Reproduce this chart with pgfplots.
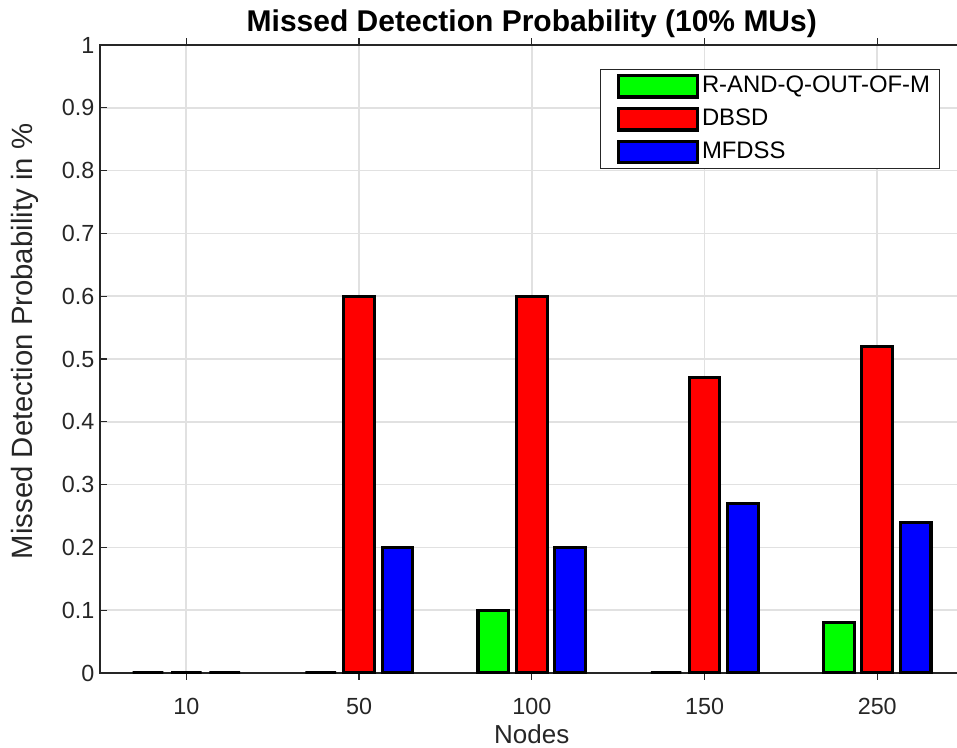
\documentclass[border=0pt]{standalone}
\usepackage{fontspec}
\setmainfont{Liberation Sans}
\usepackage{pgfplots}
\pgfplotsset{compat=1.18}

\definecolor{gridgray}{RGB}{225,225,225}
\definecolor{axgray}{RGB}{38,38,38}

\begin{document}
\begin{tikzpicture}
\begin{axis}[
  at={(0,0)}, anchor=south west,
  scale only axis,
  width=647.7pt, height=471pt,
  xmin=-0.5, xmax=4.5,
  ymin=0, ymax=1,
  xtick={0,1,2,3,4},
  xticklabels={10,50,100,150,250},
  ytick={0,0.1,...,1},
  yticklabels={0,0.1,0.2,0.3,0.4,0.5,0.6,0.7,0.8,0.9,1},
  xtick pos=both, ytick pos=both,
  tick align=inside,
  major tick length=5pt,
  every tick/.style={axgray, line width=1pt},
  axis line style={axgray, line width=1.3pt},
  grid=major,
  major grid style={gridgray, line width=1.3pt},
  every tick label/.append style={inner sep=0pt, font=\fontsize{17.5}{20}\selectfont, text=axgray},
  yticklabel style={xshift=-4pt},
  xticklabel style={yshift=-13.5pt},
  /pgf/number format/assume math mode=true,
  title={Missed Detection Probability (10\% MUs)},
  title style={at={(rel axis cs:0.5,1)}, anchor=base, yshift=4pt, inner sep=0pt,
    font=\bfseries\fontsize{22.5}{26}\selectfont},
  xlabel={Nodes},
  xlabel style={at={(axis description cs:0.5,-0.097)}, anchor=center, inner sep=0pt,
    font=\fontsize{19.5}{22}\selectfont, text=axgray},
  ylabel={Missed Detection Probability in \%},
  ylabel style={at={(axis description cs:-0.0868,0.528)}, anchor=center, inner sep=0pt,
    font=\fontsize{22}{26}\selectfont, text=axgray},
  ybar,
  bar width=0.1778,
  legend style={at={(0.9727,0.9618)}, anchor=north east,
    draw=axgray, line width=1pt, fill=white,
    font=\fontsize{17.9}{20}\selectfont,
    inner xsep=5pt, inner ysep=3pt, row sep=6pt,
    /tikz/every even column/.append style={column sep=8pt}},
  legend cell align=left,
  legend image code/.code={\path (0pt,0pt);
    \draw[#1, line width=2.4pt] (7pt,-8.5pt) rectangle (66.5pt,7.5pt);},
]
\addplot[fill={rgb,255:red,0;green,255;blue,0}, draw=black, line width=2.4pt, bar shift=-0.2222]
  coordinates {(0,0) (1,0) (2,0.1) (3,0) (4,0.08)};
\addplot[fill={rgb,255:red,255;green,0;blue,0}, draw=black, line width=2.4pt, bar shift=0]
  coordinates {(0,0) (1,0.6) (2,0.6) (3,0.47) (4,0.52)};
\addplot[fill={rgb,255:red,0;green,0;blue,255}, draw=black, line width=2.4pt, bar shift=0.2222]
  coordinates {(0,0) (1,0.2) (2,0.2) (3,0.27) (4,0.24)};
\legend{R-AND-Q-OUT-OF-M, DBSD, MFDSS}
\end{axis}
\pgfresetboundingbox
\useasboundingbox (-75pt,-55.5pt) rectangle (642.75pt,504.75pt);
\end{tikzpicture}
\end{document}
